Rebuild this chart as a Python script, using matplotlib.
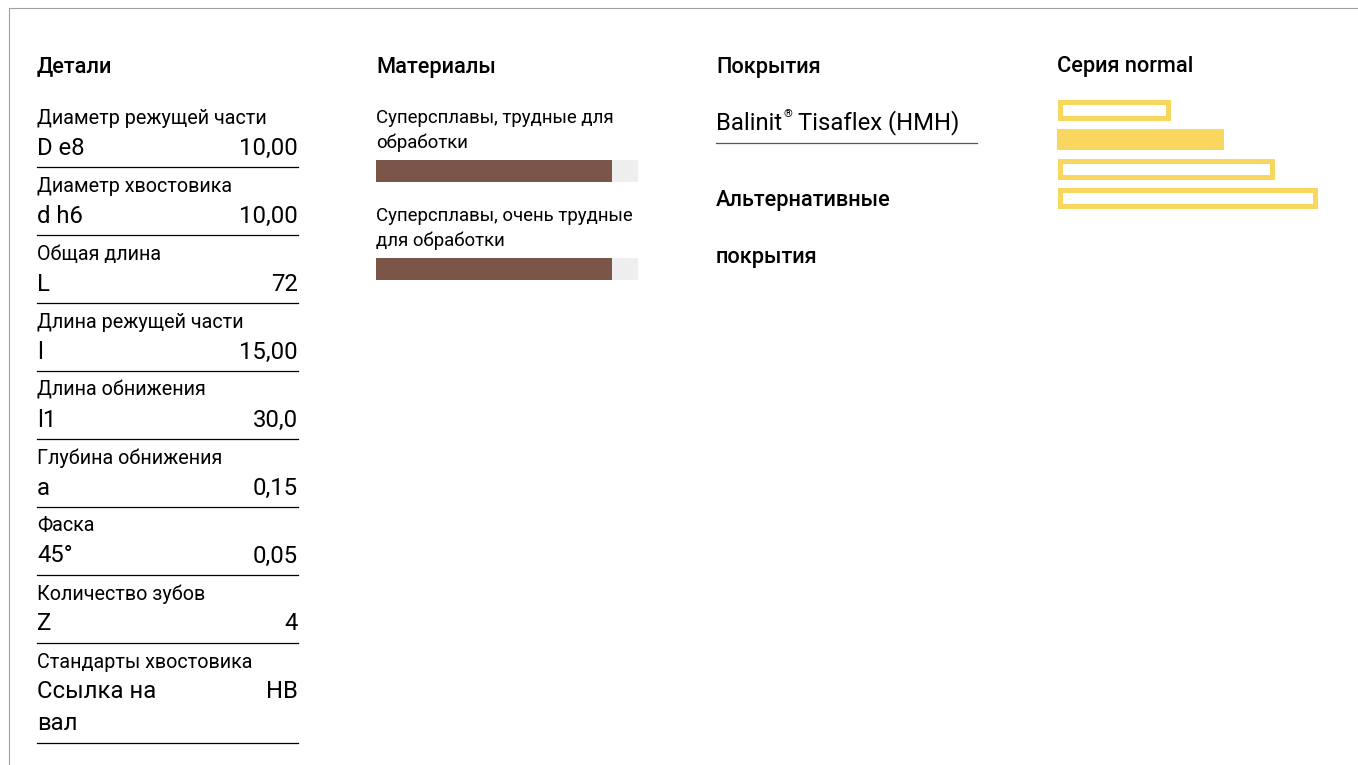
import textwrap
import matplotlib as mpl
from matplotlib import pyplot as plt

mpl.rcParams.update({
    "font.family": ["Roboto", "DejaVu Sans"],
    "font.size": 12,
})

W, H = 1358, 765

# --- data -------------------------------------------------------------
detail_labels = ["Диаметр режущей части", "Диаметр хвостовика", "Общая длина",
                 "Длина режущей части", "Длина обнижения", "Глубина обнижения",
                 "Фаска", "Количество зубов", "Стандарты хвостовика"]
detail_symbols = ["D e8", "d h6", "L", "l", "l1", "a", "45°", "Z", "Ссылка на вал"]
detail_values = ["10,00", "10,00", "72", "15,00", "30,0", "0,15", "0,05", "4", "HB"]

materials = ["Суперсплавы, трудные для обработки",
             "Суперсплавы, очень трудные для обработки"]
material_scores = [0.9, 0.9]

coating = "Balinit"
coating_rest = "Tisaflex (HMH)"
alt_coatings_title = ["Альтернативные", "покрытия"]

series_name = "Серия normal"
series_lengths = [0.435, 0.642, 0.838, 1.0]
series_filled = [False, True, False, False]

# --- style ------------------------------------------------------------
head = dict(fontsize=15.7, family=["Roboto", "DejaVu Sans"], weight="medium")
small = 14.2
big = 17.2
brown = "#7a5548"
track = "#eeeeee"
yellow = "#f9d65d"

fig = plt.figure(figsize=(W / 100, H / 100), dpi=100)
ax = fig.add_axes([0, 0, 1, 1])
ax.set_xlim(0, W)
ax.set_ylim(H, 0)
ax.axis("off")
fig.canvas.draw()
r = fig.canvas.get_renderer()


def right_edge(t):
    return t.get_window_extent(r).x1 * W / fig.bbox.width


# frame of the page
ax.plot([9, 9, W], [H, 8, 8], color="#a0a0a0", lw=0.8)

# column 1 : details
x0, x1 = 37, 298
ax.text(x0, 67, "Детали", va="center", **head)
y = 118
for lab, sym, val in zip(detail_labels, detail_symbols, detail_values):
    ax.text(x0, y, lab, fontsize=small, va="center")
    lines = textwrap.wrap(sym, 10)
    for k, ln in enumerate(lines):
        ax.text(x0, y + 30 + 32 * k, ln, fontsize=big, va="center")
    ax.text(x1, y + 30, val, fontsize=big, va="center", ha="right")
    rule_y = y + 49 + 32 * (len(lines) - 1)
    ax.plot([x0, x1], [rule_y, rule_y], color="black", lw=0.9)
    y = rule_y + 19

# column 2 : materials
mx, mw = 376, 262
ax.text(mx, 67, "Материалы", va="center", **head)
y = 118
for name, score in zip(materials, material_scores):
    lines = textwrap.wrap(name, 26)
    for k, ln in enumerate(lines):
        ax.text(mx, y + 25 * k, ln, fontsize=13.4, va="center")
    by = y + 25 * (len(lines) - 1) + 28
    ax.barh(by, mw, left=mx, height=22, color=track)
    ax.barh(by, mw * score, left=mx, height=22, color=brown)
    y = by + 45

# column 3 : coatings
cx = 716
ax.text(cx, 67, "Покрытия", va="center", **head)
t1 = ax.text(cx, 123, coating, fontsize=big, va="center")
xr = right_edge(t1)
t2 = ax.text(xr + 1, 114, "®", fontsize=8, va="center")
xr2 = right_edge(t2)
ax.text(xr2 + 6, 123, coating_rest, fontsize=big, va="center")
ax.plot([cx, 977], [143, 143], color="#555555", lw=0.9)
for k, ln in enumerate(alt_coatings_title):
    ax.text(cx, 200 + 57 * k, ln, va="center", **head)

# column 4 : series
sx, sw = 1057, 260
ax.text(sx, 66, series_name, va="center", **head)
lw_px = 5
for i, (frac, filled) in enumerate(zip(series_lengths, series_filled)):
    yc = 110 + 29.3 * i
    if filled:
        ax.barh(yc, sw * frac, left=sx, height=21, color=yellow)
    else:
        ax.barh(yc, sw * frac - lw_px, left=sx + lw_px / 2, height=21 - lw_px,
                facecolor="white", edgecolor=yellow, linewidth=lw_px * 0.72)

fig.savefig("out.png", dpi=100)
